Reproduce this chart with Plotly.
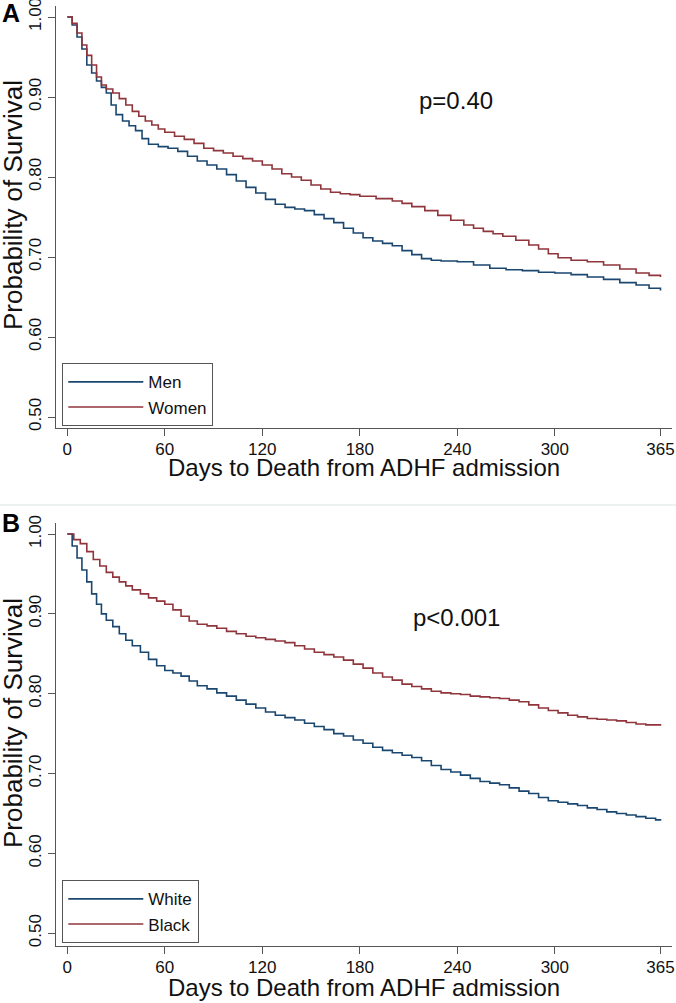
import plotly.graph_objects as go

# ---------------- data ----------------
men_days = [0, 3, 6, 9, 12, 15, 18, 21, 24, 27, 30, 34, 38, 42, 46, 50, 56, 62, 68, 74, 80, 86, 92, 98,
            104, 110, 116, 122, 128, 134, 140, 146, 152, 158, 164, 170, 176, 182, 188, 194, 200, 206, 212,
            218, 224, 230, 240, 250, 260, 270, 280, 290, 300, 310, 320, 330, 340, 350, 358, 365]
men_surv = [1.000, 0.990, 0.975, 0.960, 0.940, 0.930, 0.920, 0.912, 0.905, 0.890, 0.878, 0.870, 0.864, 0.858,
            0.848, 0.841, 0.838, 0.836, 0.832, 0.826, 0.820, 0.815, 0.810, 0.803, 0.795, 0.787, 0.780, 0.772,
            0.766, 0.762, 0.760, 0.758, 0.753, 0.748, 0.743, 0.736, 0.730, 0.724, 0.720, 0.717, 0.714, 0.708,
            0.703, 0.698, 0.696, 0.695, 0.694, 0.690, 0.686, 0.684, 0.683, 0.681, 0.680, 0.678, 0.675, 0.672,
            0.668, 0.665, 0.661, 0.658]

women_days = [0, 3, 6, 9, 12, 15, 18, 21, 24, 28, 32, 36, 40, 44, 48, 52, 56, 60, 66, 72, 78, 84, 90, 96,
              102, 108, 114, 120, 126, 132, 138, 144, 150, 156, 162, 168, 174, 180, 190, 200, 206, 212, 220,
              228, 236, 244, 250, 256, 262, 268, 276, 284, 290, 296, 302, 310, 320, 330, 340, 350, 358, 365]
women_surv = [1.000, 0.992, 0.980, 0.965, 0.952, 0.940, 0.925, 0.915, 0.910, 0.905, 0.898, 0.890, 0.882,
              0.876, 0.870, 0.865, 0.860, 0.856, 0.851, 0.847, 0.842, 0.836, 0.833, 0.830, 0.826, 0.823,
              0.820, 0.815, 0.810, 0.804, 0.800, 0.796, 0.790, 0.785, 0.781, 0.779, 0.778, 0.776, 0.773,
              0.770, 0.767, 0.763, 0.758, 0.752, 0.746, 0.740, 0.736, 0.732, 0.729, 0.726, 0.721, 0.715,
              0.710, 0.704, 0.699, 0.696, 0.694, 0.690, 0.685, 0.680, 0.677, 0.675]

white_days = [0, 3, 6, 9, 12, 15, 18, 21, 24, 28, 32, 36, 40, 45, 50, 55, 60, 65, 70, 75, 80, 86, 92, 98,
              104, 110, 116, 122, 128, 134, 140, 146, 152, 158, 164, 170, 176, 182, 188, 194, 200, 206, 212,
              218, 224, 230, 236, 242, 248, 254, 260, 266, 272, 278, 284, 290, 296, 302, 308, 314, 320, 326,
              332, 338, 344, 350, 356, 362, 365]
white_surv = [1.000, 0.985, 0.970, 0.955, 0.940, 0.925, 0.912, 0.900, 0.892, 0.884, 0.875, 0.867, 0.860,
              0.852, 0.843, 0.835, 0.829, 0.826, 0.822, 0.816, 0.810, 0.806, 0.801, 0.797, 0.792, 0.787,
              0.782, 0.777, 0.773, 0.770, 0.767, 0.763, 0.759, 0.755, 0.750, 0.747, 0.742, 0.738, 0.733,
              0.729, 0.726, 0.723, 0.720, 0.716, 0.710, 0.705, 0.702, 0.698, 0.694, 0.690, 0.688, 0.686,
              0.682, 0.678, 0.675, 0.670, 0.666, 0.664, 0.662, 0.660, 0.657, 0.655, 0.652, 0.650, 0.648,
              0.646, 0.644, 0.642, 0.641]

black_days = [0, 4, 8, 12, 16, 20, 24, 28, 32, 36, 40, 45, 50, 55, 60, 65, 70, 75, 80, 86, 92, 98, 104, 110,
              116, 122, 128, 134, 140, 146, 152, 158, 164, 170, 176, 182, 188, 194, 200, 206, 212, 218, 224,
              230, 236, 242, 248, 254, 260, 266, 272, 278, 284, 290, 296, 302, 308, 314, 320, 326, 332, 338,
              344, 350, 356, 365]
black_surv = [1.000, 0.993, 0.988, 0.978, 0.968, 0.960, 0.952, 0.946, 0.940, 0.935, 0.930, 0.925, 0.920,
              0.916, 0.912, 0.905, 0.897, 0.891, 0.887, 0.885, 0.882, 0.878, 0.875, 0.872, 0.870, 0.868,
              0.866, 0.864, 0.860, 0.856, 0.852, 0.849, 0.846, 0.842, 0.837, 0.832, 0.826, 0.821, 0.817,
              0.812, 0.809, 0.806, 0.803, 0.801, 0.800, 0.799, 0.797, 0.796, 0.795, 0.794, 0.792, 0.790,
              0.786, 0.782, 0.779, 0.776, 0.773, 0.771, 0.769, 0.768, 0.767, 0.766, 0.764, 0.762, 0.761,
              0.760]

x_ticks = [0, 60, 120, 180, 240, 300, 365]
y_ticks = [0.50, 0.60, 0.70, 0.80, 0.90, 1.00]
x_title = "Days to Death from ADHF admission"
y_title = "Probability of Survival"
p_values = ["p=0.40", "p<0.001"]
panel_labels = ["A", "B"]

# ---------------- styling ----------------
W, H = 676, 1003
BLUE = "#1a476f"
RED = "#90353b"
AXC = "#555555"
FONT = "Liberation Sans, Arial, Helvetica, sans-serif"


def px(p):
    return p / W


def py(p):
    return 1 - p / H


fig = go.Figure()

fig.add_trace(go.Scatter(x=men_days, y=men_surv, mode="lines", line_shape="hv", name="Men",
                         line=dict(color=BLUE, width=1.6), xaxis="x", yaxis="y", legend="legend"))
fig.add_trace(go.Scatter(x=women_days, y=women_surv, mode="lines", line_shape="hv", name="Women",
                         line=dict(color=RED, width=1.6), xaxis="x", yaxis="y", legend="legend"))
fig.add_trace(go.Scatter(x=white_days, y=white_surv, mode="lines", line_shape="hv", name="White",
                         line=dict(color=BLUE, width=1.6), xaxis="x2", yaxis="y2", legend="legend2"))
fig.add_trace(go.Scatter(x=black_days, y=black_surv, mode="lines", line_shape="hv", name="Black",
                         line=dict(color=RED, width=1.6), xaxis="x2", yaxis="y2", legend="legend2"))

xaxis_common = dict(range=[-6.95, 372.1], tickvals=x_ticks, ticks="outside", ticklen=7, tickwidth=1.2,
                    tickcolor=AXC, showline=True, linecolor=AXC, linewidth=1.3, showgrid=False,
                    zeroline=False, automargin=False, ticklabeloverflow="allow", ticklabelstandoff=-2,
                    tickfont=dict(size=17, color="#111", family=FONT))
yaxis_common = dict(tickvals=y_ticks, tickformat=".2f", ticks="outside", ticklen=7, tickwidth=1.2,
                    tickcolor=AXC, showline=True, linecolor=AXC, linewidth=1.3, showgrid=False,
                    zeroline=False, automargin=False, tickangle=-90, ticklabeloverflow="allow",
                    tickfont=dict(size=17, color="#111", family=FONT))

xdom = [px(56), px(672)]
legend_common = dict(xanchor="left", yanchor="top", bordercolor=AXC, borderwidth=1.3, bgcolor="white",
                     font=dict(size=17, family=FONT, color="#111"), itemwidth=75, tracegroupgap=0)
fig.update_layout(
    template="none",
    width=W, height=H,
    margin=dict(l=0, r=0, t=0, b=0, autoexpand=False),
    paper_bgcolor="white", plot_bgcolor="white",
    font=dict(family=FONT, color="#111"),
    xaxis=dict(domain=xdom, anchor="y", **xaxis_common),
    yaxis=dict(domain=[py(428), py(6)], range=[0.48625, 1.01375], anchor="x", **yaxis_common),
    xaxis2=dict(domain=xdom, anchor="y2", **xaxis_common),
    yaxis2=dict(domain=[py(946), py(523)], range=[0.484, 1.0138], anchor="x2", **yaxis_common),
    legend=dict(x=px(62), y=py(363), **legend_common),
    legend2=dict(x=px(62), y=py(880), **legend_common),
)

annots = []
# axis titles
for cy in (468, 987):
    annots.append(dict(x=px(364), y=py(cy), xref="paper", yref="paper", text=x_title, showarrow=False,
                       xanchor="center", yanchor="middle", font=dict(size=24, family=FONT, color="#111")))
for cy in (205, 723):
    annots.append(dict(x=px(13), y=py(cy), xref="paper", yref="paper", text=y_title, showarrow=False,
                       textangle=-90, xanchor="center", yanchor="middle", borderpad=0,
                       font=dict(size=26, family=FONT, color="#111")))
# p-values
for txt, cx, cy in zip(p_values, (456, 457), (101, 617)):
    annots.append(dict(x=px(cx), y=py(cy), xref="paper", yref="paper", text=txt, showarrow=False,
                       xanchor="center", yanchor="middle", font=dict(size=24, family=FONT, color="#111")))
# panel labels
for txt, cy in zip(panel_labels, (13, 523)):
    annots.append(dict(x=px(11), y=py(cy), xref="paper", yref="paper", text="<b>%s</b>" % txt,
                       showarrow=False, xanchor="center", yanchor="middle",
                       font=dict(size=25, family=FONT, color="#000")))
fig.update_layout(annotations=annots)

# faint separator between the two panels
fig.add_shape(type="line", xref="paper", yref="paper", x0=0, x1=1, y0=py(505), y1=py(505),
              line=dict(color="#e6eeee", width=1.5))

fig.write_html("out.html", config={"displayModeBar": False},
               post_script="document.body.style.margin='0';document.body.style.padding='0';")
